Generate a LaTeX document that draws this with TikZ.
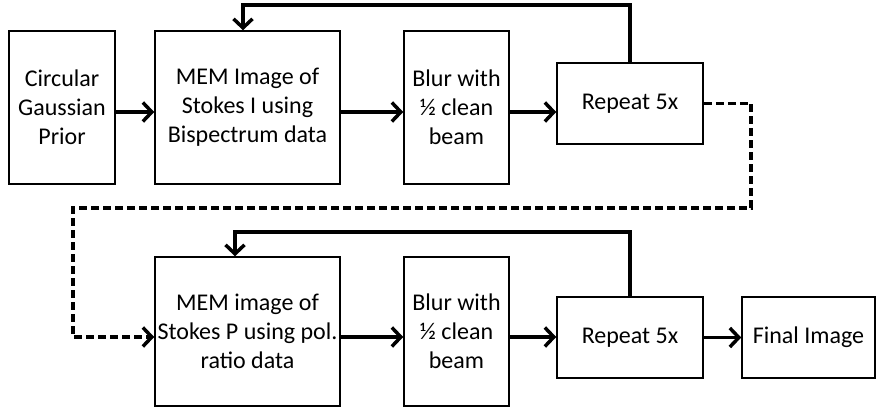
\documentclass[tikz,border=0pt]{standalone}
\usepackage{fontspec}
\setmainfont{Carlito}
\usetikzlibrary{arrows.meta}

\tikzset{
  box/.style={draw, line width=1.5pt, align=center, inner sep=0pt,
    font=\fontsize{24}{29}\selectfont},
  arr/.style={line width=3.5pt, -{Straight Barb[length=9pt,width=19pt,line width=3.5pt]}},
  dasharr/.style={arr, dash pattern=on 8pt off 4pt}
}

\begin{document}
\begin{tikzpicture}[x=1pt,y=-1pt]
        \useasboundingbox (0,0) rectangle (876,410);
        % first row
        \node[box, minimum width=106pt, minimum height=153pt] (prior) at (62,107.5) {Circular\\Gaussian\\Prior};
        \node[box, minimum width=185pt, minimum height=153pt] (memI) at (247.5,107.5) {MEM Image of\\Stokes I using\\Bispectrum data};
        \node[box, minimum width=105pt, minimum height=153pt] (blurI) at (456.5,107.5) {Blur with\\½ clean\\beam};
        \node[box, minimum width=146pt, minimum height=81pt] (repI) at (630,103.5) {Repeat 5x};
        % second row
        \node[box, minimum width=185pt, minimum height=149pt] (memP) at (247.5,331.5) {MEM image of\\Stokes P using pol.\\ratio data};
        \node[box, minimum width=105pt, minimum height=149pt] (blurP) at (456.5,331.5) {Blur with\\½ clean\\beam};
        \node[box, minimum width=146pt, minimum height=81pt] (repP) at (630,337.5) {Repeat 5x};
        \node[box, minimum width=133pt, minimum height=81pt] (final) at (808.5,337.5) {Final Image};
        % corners of the loops
        \coordinate (loopI) at (243,5);
        \coordinate (loopP) at (235,232);
        \coordinate (dashR) at (751,208);
        \coordinate (dashL) at (73,208);
        % draw arrows
        \draw[arr] ([yshift=-4.5pt]prior.east) -- ([yshift=-4.5pt]memI.west);
        \draw[arr] ([yshift=-4.5pt]memI.east) -- ([yshift=-4.5pt]blurI.west);
        \draw[arr] ([yshift=-4.5pt]blurI.east) -- ([yshift=-4.5pt]blurI.east -| repI.west);
        \draw[arr] (repI.north) |- (loopI) -- (loopI |- memI.north);
        \draw[dasharr] (repI.east) -| (dashR) -- (dashL) |- ([yshift=-5.5pt]memP.west);
        \draw[arr] ([yshift=-5.5pt]memP.east) -- ([yshift=-5.5pt]blurP.west);
        \draw[arr] ([yshift=-5.5pt]blurP.east) -- ([yshift=-5.5pt]blurP.east -| repP.west);
        \draw[arr] (repP.east) -- (final.west);
        \draw[arr] (repP.north) |- (loopP) -- (loopP |- memP.north);
\end{tikzpicture}
\end{document}
